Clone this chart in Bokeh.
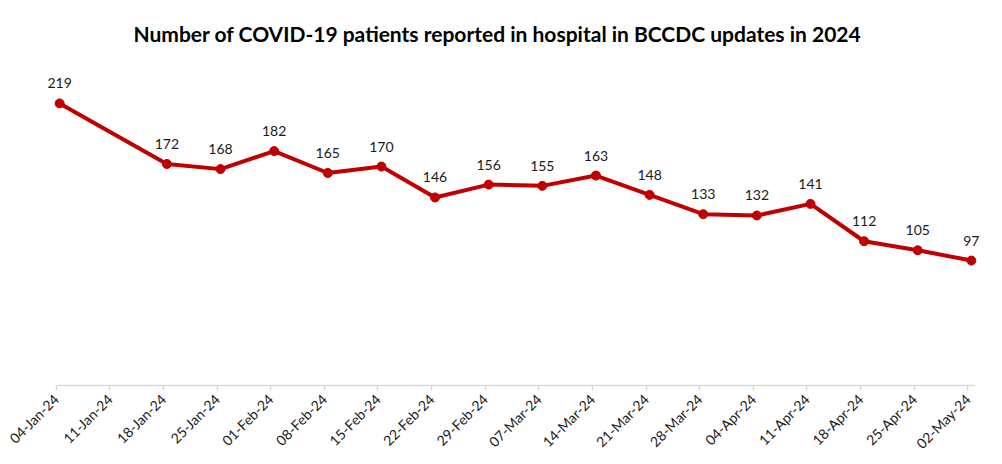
from bokeh.plotting import figure
from bokeh.models import ColumnDataSource, FixedTicker, CustomJSTickFormatter, Range1d, LabelSet
from bokeh.core.properties import value
from bokeh.embed import file_html
from bokeh.resources import INLINE
import math

dates = ["04-Jan-24", "11-Jan-24", "18-Jan-24", "25-Jan-24", "01-Feb-24", "08-Feb-24",
         "15-Feb-24", "22-Feb-24", "29-Feb-24", "07-Mar-24", "14-Mar-24", "21-Mar-24",
         "28-Mar-24", "04-Apr-24", "11-Apr-24", "18-Apr-24", "25-Apr-24", "02-May-24"]
patients = [219, None, 172, 168, 182, 165, 170, 146, 156, 155, 163, 148,
            133, 132, 141, 112, 105, 97]

xs = [i for i, v in enumerate(patients) if v is not None]
ys = [v for v in patients if v is not None]
src = ColumnDataSource(dict(x=xs, y=ys, lab=[str(v) for v in ys]))

RED = "#C00000"
TICK_SHIFT = 0.065

p = figure(width=1000, height=460, output_backend="svg", toolbar_location=None,
           x_range=Range1d(-0.45, 17.45), y_range=Range1d(0, 250),
           min_border_left=35, min_border_right=5, min_border_top=62, min_border_bottom=75)
p.title.text = "Number of COVID-19 patients reported in hospital in BCCDC updates in 2024"
p.title.align = "left"
p.title.text_font = "Lato"
p.title.text_font_size = "21px"
p.title.text_font_style = "bold"
p.title.text_color = "#000000"
p.title.offset = 98
p.title.standoff = 36

p.line("x", "y", source=src, line_color=RED, line_width=4, line_join="round")
p.scatter("x", "y", source=src, size=9, fill_color=RED, line_color=RED)

labels = LabelSet(x="x", y="y", text="lab", source=src, text_align="center",
                  text_baseline="bottom", y_offset=15, text_font_size="14px",
                  text_font=value("Lato"), text_color="#1a1a1a")
p.add_layout(labels)

p.yaxis.visible = False
p.grid.visible = False
p.outline_line_color = None

ax = p.xaxis[0]
ax.bounds = (-TICK_SHIFT, 17.05)
ax.ticker = FixedTicker(ticks=[i - TICK_SHIFT for i in range(len(dates))])
ax.formatter = CustomJSTickFormatter(args=dict(labels=dates),
                                     code="return labels[Math.round(tick)];")
ax.major_label_orientation = math.pi / 4
ax.major_label_text_font = "Lato"
ax.major_label_text_font_size = "14px"
ax.major_label_text_color = "#1a1a1a"
ax.axis_line_color = "#d9d9d9"
ax.axis_line_width = 1.5
ax.major_tick_line_color = "#d9d9d9"
ax.major_tick_line_width = 1.5
ax.major_tick_out = 5
ax.major_tick_in = 0
ax.minor_tick_line_color = None
ax.major_label_standoff = 6

open("out.html", "w").write(file_html(p, INLINE))
